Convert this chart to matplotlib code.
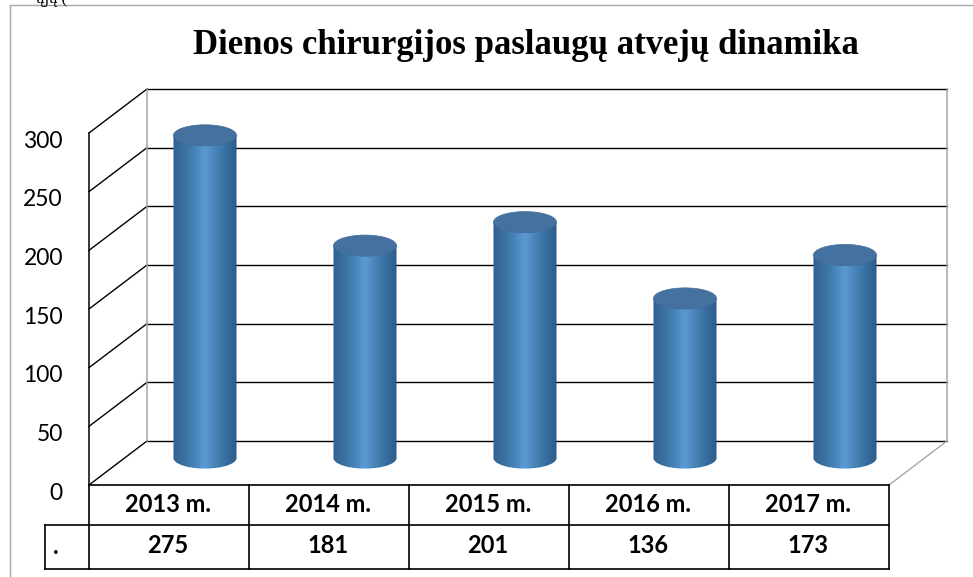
import matplotlib
matplotlib.use("Agg")
import matplotlib.pyplot as plt
import numpy as np
from matplotlib.colors import LinearSegmentedColormap
from matplotlib.patches import Ellipse, PathPatch
from matplotlib.path import Path
from matplotlib.transforms import Affine2D, IdentityTransform

# chart data
years = ["2013 m.", "2014 m.", "2015 m.", "2016 m.", "2017 m."]
cases = [275, 181, 201, 136, 173]
y_ticks = [0, 50, 100, 150, 200, 250, 300]
title = "Dienos chirurgijos paslaugų atvejų dinamika"
series_name = "."

W, H = 973, 577
fig = plt.figure(figsize=(W / 100, H / 100), dpi=100, facecolor="white")

# overlay in pixels for the outer frame only
bg = fig.add_axes([0, 0, 1, 1])
bg.set_xlim(0, W)
bg.set_ylim(H, 0)
bg.axis("off")
bg.plot([10, 10, W], [H, 4.5, 4.5], color="#a6a6a6", lw=1)
bg.text(36, 3, "ųjų (", fontsize=12, family="Liberation Serif", ha="left",
        va="baseline", color="black", clip_on=True)

# main axes sits on the plane of the bars, with room under 0 for the cylinder bases
px_per_unit = 352 / 300
y_low = -25
ax = fig.add_axes([125 / W, (H - 458 + y_low * px_per_unit) / H, 800 / W,
                   (300 - y_low) * px_per_unit / H])
ax.axis("off")

front = ax.transData + Affine2D().translate(-36, -27)
back = ax.transData + Affine2D().translate(22, 17)
pixels = IdentityTransform()

x0, x1 = -0.5, 4.5
ax.set_xlim(x0, x1)
ax.set_ylim(y_low, 300)


def depth_line(x, v, color):
    # line from the front plane to the back wall
    p_front = front.transform((x, v))
    p_back = back.transform((x, v))
    ax.plot([p_front[0], p_back[0]], [p_front[1], p_back[1]], transform=pixels,
            color=color, lw=1.0, clip_on=False, zorder=1)


for v in y_ticks:
    ax.plot([x0, x1], [v, v], transform=back, color="black", lw=1.0, clip_on=False, zorder=1)
    depth_line(x0, v, "black")
    ax.text(x0, v, str(v), transform=front + Affine2D().translate(-26, -8),
            ha="right", va="center", fontsize=16.5, family="Lato", color="black")

ax.plot([x0, x0], [0, 300], transform=back, color="#a6a6a6", lw=1.1, clip_on=False, zorder=1)
ax.plot([x1, x1], [0, 300], transform=back, color="#a6a6a6", lw=1.1, clip_on=False, zorder=1)
ax.plot([x0, x0], [0, 300], transform=front, color="black", lw=1.1, clip_on=False, zorder=1)
depth_line(x1, 0, "#a6a6a6")

# cylinders
cyl = LinearSegmentedColormap.from_list(
    "cyl", ["#2f5f8e", "#3f78ab", "#5a9ad3", "#3f78ab", "#2d5b88"])
grad = np.linspace(0, 1, 256).reshape(1, -1)
half = 0.197
ry = 9.0
for i, val in enumerate(cases):
    t = np.linspace(np.pi, 2 * np.pi, 60)
    xs = i + half * np.cos(t)
    ys = ry * np.sin(t)
    verts = list(zip(xs, ys)) + [(i + half, val), (i - half, val), (i - half, 0)]
    body = PathPatch(Path(verts), facecolor="none", edgecolor="none", zorder=2)
    ax.add_patch(body)
    im = ax.imshow(grad, extent=[i - half, i + half, -ry, val], aspect="auto",
                   cmap=cyl, vmin=0, vmax=1, zorder=2, origin="lower")
    im.set_clip_path(body)
    ax.add_patch(Ellipse((i, val), 2 * half, 2 * ry, facecolor="#44719f",
                         edgecolor="#3f6c99", lw=0.5, zorder=3, clip_on=False))

ax.set_xlim(x0, x1)
ax.set_ylim(y_low, 300)

# data table below the chart
tb = fig.add_axes([89 / W, (H - 569) / H, 800 / W, 84 / H])
tb.set_xlim(x0, x1)
tb.set_ylim(2, 0)
tb.axis("off")
row_split = 40 / 84 * 2
for e in np.arange(len(years) + 1) - 0.5:
    tb.plot([e, e], [0, 2], color="black", lw=1.2, clip_on=False)
tb.plot([x0, x1], [0, 0], color="black", lw=1.2, clip_on=False)
tb.plot([x0 - 0.275, x1], [row_split, row_split], color="black", lw=1.2, clip_on=False)
tb.plot([x0 - 0.275, x1], [2, 2], color="black", lw=1.2, clip_on=False)
tb.plot([x0 - 0.275, x0 - 0.275], [row_split, 2], color="black", lw=1.2, clip_on=False)
for i, (yr, val) in enumerate(zip(years, cases)):
    tb.text(i - 0.006, row_split / 2, yr, ha="center", va="center", fontsize=17,
            family="Lato", weight="bold")
    tb.text(i - 0.006, (row_split + 2) / 2 - 0.04, str(val), ha="center", va="center", fontsize=17,
            family="Lato", weight="bold")
tb.text(x0 - 0.21, (row_split + 2) / 2, series_name, ha="center", va="center",
        fontsize=17, family="Lato", weight="bold")

fig.text(525.5 / W, 1 - 45.5 / H, title, ha="center", va="center", fontsize=25,
         family="Liberation Serif", weight="bold")

fig.savefig("out.png", dpi=100)
